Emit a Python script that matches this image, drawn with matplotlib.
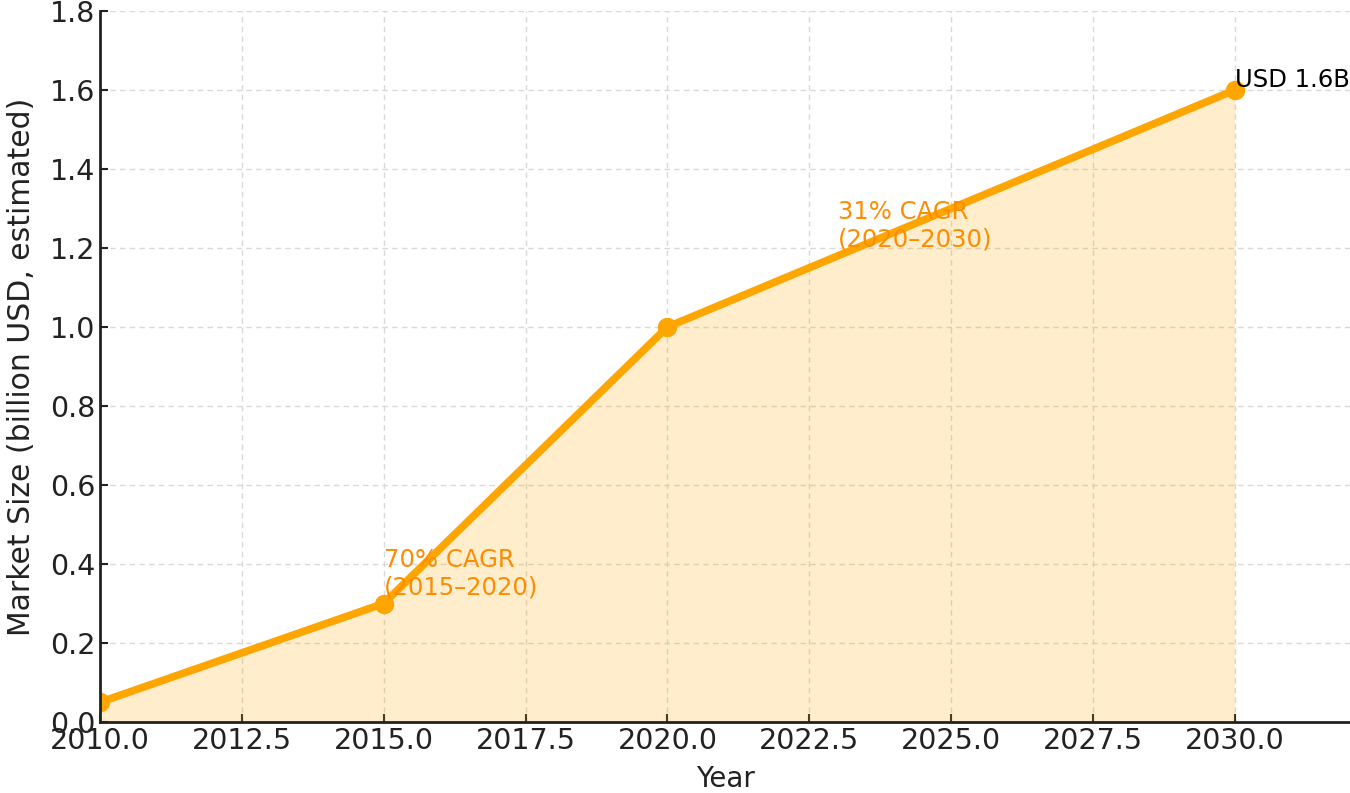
import matplotlib
matplotlib.use("Agg")
import matplotlib.pyplot as plt

years = [2010, 2015, 2020, 2030]
market_size = [0.05, 0.3, 1.0, 1.6]
xticks = [2010.0, 2012.5, 2015.0, 2017.5, 2020.0, 2022.5, 2025.0, 2027.5, 2030.0]
yticks = [0.0, 0.2, 0.4, 0.6, 0.8, 1.0, 1.2, 1.4, 1.6, 1.8]

fig = plt.figure(figsize=(13.5, 7.93), dpi=100)
ax = fig.add_axes([100/1350, 1-722/793, 1250/1350, (722-11)/793])

ax.fill_between(years, market_size, color="orange", alpha=0.2, linewidth=0)
ax.plot(years, market_size, color="orange", linewidth=5.5, marker="o", markersize=13)

ax.annotate("70% CAGR\n(2015–2020)", (2015, 0.3), xytext=(0, 4), textcoords="offset pixels",
            color="darkorange", fontsize=17.5, ha="left", va="bottom")
ax.annotate("31% CAGR\n(2020–2030)", (2023, 1.2), xytext=(0, -4), textcoords="offset pixels",
            color="darkorange", fontsize=17.5, ha="left", va="bottom")
ax.annotate("USD 1.6B", (2030, 1.6), xytext=(0, -2), textcoords="offset pixels",
            color="black", fontsize=17.5, ha="left", va="bottom")

ax.set_xlim(2010, 2032.03)
ax.set_ylim(0, 1.8)
ax.set_xticks(xticks)
ax.set_xticklabels([f"{t:.1f}" for t in xticks])
ax.set_yticks(yticks)
ax.set_yticklabels([f"{t:.1f}" for t in yticks])
ax.tick_params(axis="both", labelsize=20.5, direction="in", length=6, width=1.5,
               colors="#222222")
ax.grid(True, linestyle=(0, (4, 3)), color="#d9d9d9", linewidth=1)
ax.set_axisbelow(True)
for s in ["top", "right"]:
    ax.spines[s].set_visible(False)
for s in ["left", "bottom"]:
    ax.spines[s].set_linewidth(2)
    ax.spines[s].set_color("#222222")
ax.set_xlabel("Year", fontsize=20, color="#222222", labelpad=7)
ax.set_ylabel("Market Size (billion USD, estimated)", fontsize=21.5, color="#222222", labelpad=10)

fig.savefig("out.png", dpi=100)
